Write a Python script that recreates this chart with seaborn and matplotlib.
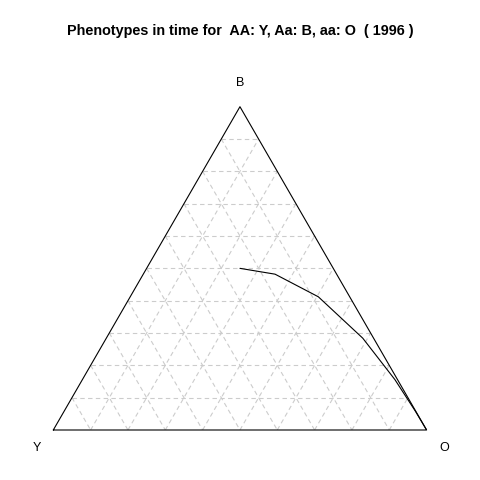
import numpy as np
import pandas as pd
import matplotlib
matplotlib.use("Agg")
import matplotlib.pyplot as plt
import seaborn as sns

# genotype frequencies over time
freq_AA = [0.25, 0.165, 0.084, 0.029, 0.007, 0.001, 0.0]   # Y
freq_Aa = [0.50, 0.482, 0.412, 0.284, 0.156, 0.058, 0.0]   # B
freq_aa = [0.25, 0.353, 0.504, 0.687, 0.837, 0.941, 1.0]   # O
vertex_labels = ["Y", "B", "O"]
grid_steps = [0.1, 0.2, 0.3, 0.4, 0.5, 0.6, 0.7, 0.8, 0.9]

H = np.sqrt(3) / 2


def tern(y, b, o):
    # Y bottom-left, O bottom-right, B on top
    x = np.asarray(o) + np.asarray(b) / 2
    return x, np.asarray(b) * H


sns.set_style("white")
plt.rcParams["font.family"] = ["Liberation Sans", "DejaVu Sans"]
plt.rcParams["text.color"] = "black"

fig = plt.figure(figsize=(4.8, 4.8), dpi=100)
ax = fig.add_axes([53.3 / 480, 50 / 480, 373.3 / 480, 323.3 / 480])

# dashed grid
gkw = dict(color="#cccccc", lw=0.8, ls=(0, (4, 3)), zorder=1)
for g in grid_steps:
    # constant B
    x, y = tern([1 - g, 0], [g, g], [0, 1 - g])
    ax.plot(x, y, **gkw)
    # constant O
    x, y = tern([1 - g, 0], [0, 1 - g], [g, g])
    ax.plot(x, y, **gkw)
    # constant Y
    x, y = tern([g, g], [1 - g, 0], [0, 1 - g])
    ax.plot(x, y, **gkw)

# triangle
ax.plot([0, 1, 0.5, 0], [0, 0, H, 0], color="black", lw=0.8, zorder=2,
        clip_on=False)

# trajectory
cx, cy = tern(freq_AA, freq_Aa, freq_aa)
df = pd.DataFrame({"x": cx, "y": cy})
sns.lineplot(data=df, x="x", y="y", sort=False, color="black", lw=0.8,
             ax=ax, zorder=3)
ax.set_xlim(0, 1)
ax.set_ylim(0, H)
ax.axis("off")

ax.text(-0.044, -0.048, vertex_labels[0], ha="center", va="center",
        fontsize=9)
ax.text(0.5, 0.93, vertex_labels[1], ha="center", va="center", fontsize=9)
ax.text(1.047, -0.048, vertex_labels[2], ha="center", va="center",
        fontsize=9)

fig.text(0.5, 1 - 31 / 480,
         "Phenotypes in time for  AA: Y, Aa: B, aa: O  ( 1996 )",
         ha="center", va="center", fontsize=10.4, fontweight="bold")

fig.savefig("out.png", dpi=100)
